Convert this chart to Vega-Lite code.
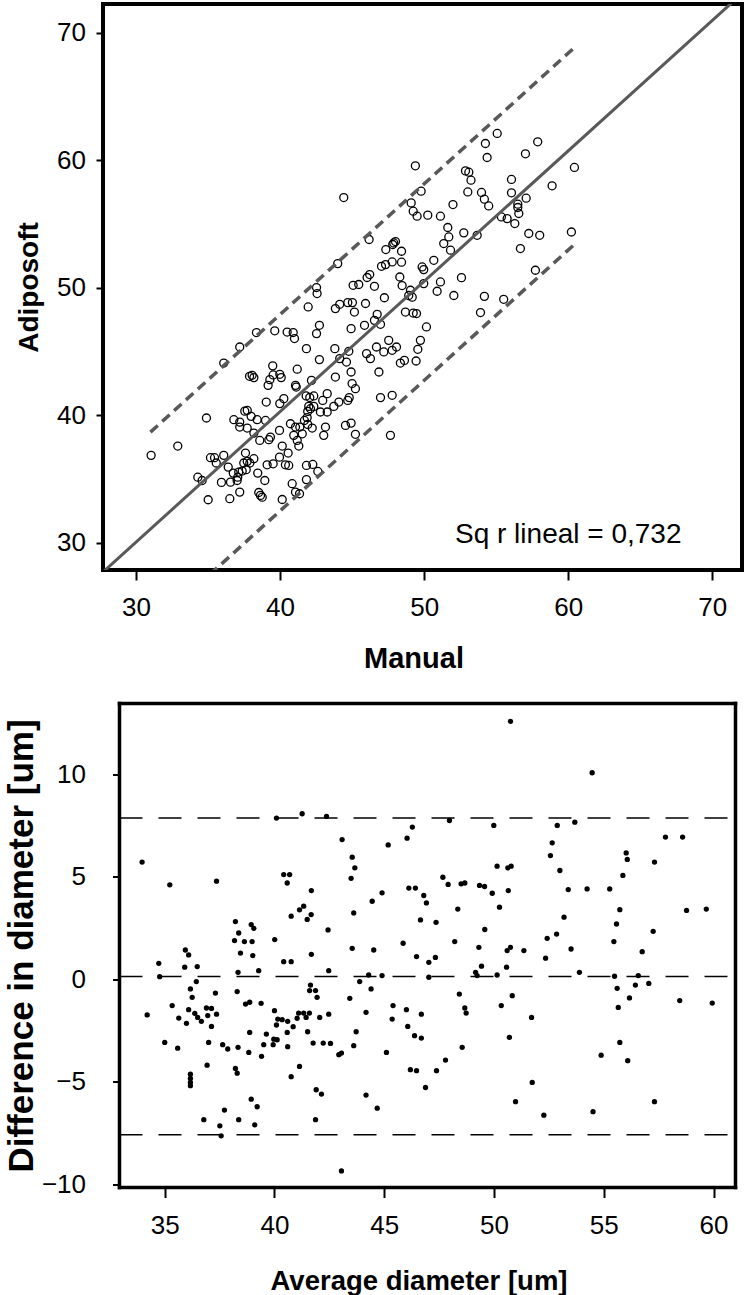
{
  "$schema": "https://vega.github.io/schema/vega-lite/v6.json",
  "padding": {"left": 4, "top": 2, "right": 5, "bottom": 2},
  "spacing": 25.5,
  "config": {
    "font": "Liberation Sans",
    "axis": {"domain": false, "grid": false, "tickColor": "black", "tickWidth": 2, "labelColor": "black", "titleColor": "black", "labelFont": "Liberation Sans", "labelFontSize": 26, "titleFont": "Liberation Sans", "titleFontWeight": "bold"},
    "axisX": {"tickSize": 10, "labelPadding": 14.5, "titleBaseline": "alphabetic"},
    "axisY": {"tickSize": 7, "titleBaseline": "alphabetic", "titleAngle": 270}
  },
  "datasets": {
    "scatter": [
      {"manual":49.39,"adiposoft":59.55},{"manual":44.42,"adiposoft":57.06},{"manual":49.79,"adiposoft":57.56},{"manual":49.10,"adiposoft":56.64},{"manual":49.24,"adiposoft":55.99},{"manual":49.51,"adiposoft":55.60},{"manual":50.25,"adiposoft":55.68},{"manual":46.18,"adiposoft":53.77},{"manual":47.89,"adiposoft":53.50},{"manual":47.82,"adiposoft":53.38},{"manual":48.01,"adiposoft":53.61},{"manual":47.34,"adiposoft":52.98},{"manual":48.43,"adiposoft":52.85},{"manual":44.00,"adiposoft":51.88},{"manual":47.04,"adiposoft":51.67},{"manual":47.32,"adiposoft":51.80},{"manual":47.78,"adiposoft":52.01},{"manual":48.43,"adiposoft":51.99},{"manual":49.86,"adiposoft":51.62},{"manual":49.97,"adiposoft":51.41},{"manual":46.22,"adiposoft":51.02},{"manual":46.04,"adiposoft":50.79},{"manual":48.31,"adiposoft":50.83},{"manual":45.07,"adiposoft":50.18},{"manual":45.46,"adiposoft":50.24},{"manual":46.55,"adiposoft":50.10},{"manual":48.47,"adiposoft":50.16},{"manual":49.05,"adiposoft":49.79},{"manual":49.97,"adiposoft":50.31},{"manual":42.53,"adiposoft":50.00},{"manual":42.57,"adiposoft":49.53},{"manual":47.24,"adiposoft":49.20},
      {"manual":55.07,"adiposoft":62.09},{"manual":54.25,"adiposoft":61.30},{"manual":57.88,"adiposoft":61.43},{"manual":54.37,"adiposoft":60.20},{"manual":57.03,"adiposoft":60.49},{"manual":60.43,"adiposoft":59.42},{"manual":52.87,"adiposoft":59.15},{"manual":53.10,"adiposoft":59.05},{"manual":53.25,"adiposoft":58.42},{"manual":56.06,"adiposoft":58.48},{"manual":58.88,"adiposoft":57.98},{"manual":53.03,"adiposoft":57.50},{"manual":53.98,"adiposoft":57.46},{"manual":56.06,"adiposoft":57.43},{"manual":52.00,"adiposoft":56.51},{"manual":54.18,"adiposoft":56.93},{"manual":54.48,"adiposoft":56.40},{"manual":57.08,"adiposoft":57.01},{"manual":56.50,"adiposoft":56.54},{"manual":56.50,"adiposoft":56.28},{"manual":56.57,"adiposoft":55.81},{"manual":51.13,"adiposoft":55.60},{"manual":55.36,"adiposoft":55.54},{"manual":55.76,"adiposoft":55.41},{"manual":56.29,"adiposoft":55.02},{"manual":51.64,"adiposoft":54.71},{"manual":51.71,"adiposoft":53.97},{"manual":51.36,"adiposoft":53.45},{"manual":51.83,"adiposoft":52.93},{"manual":52.75,"adiposoft":54.29},{"manual":53.68,"adiposoft":54.10},{"manual":57.26,"adiposoft":54.24},{"manual":58.02,"adiposoft":54.10},{"manual":60.22,"adiposoft":54.36},{"manual":56.68,"adiposoft":53.06},{"manual":50.67,"adiposoft":52.14},{"manual":52.59,"adiposoft":50.78},{"manual":57.72,"adiposoft":51.36},{"manual":51.13,"adiposoft":50.44},{"manual":50.90,"adiposoft":49.71},{"manual":52.06,"adiposoft":49.38},{"manual":54.18,"adiposoft":49.31},{"manual":55.52,"adiposoft":49.08},
      {"manual":53.91,"adiposoft":48.04},{"manual":48.70,"adiposoft":48.08},{"manual":49.24,"adiposoft":48.00},{"manual":49.47,"adiposoft":47.96},{"manual":50.16,"adiposoft":46.91},{"manual":49.74,"adiposoft":45.86},{"manual":49.56,"adiposoft":45.16},{"manual":48.63,"adiposoft":44.29},{"manual":49.44,"adiposoft":44.24},{"manual":48.93,"adiposoft":49.38},{"manual":49.17,"adiposoft":49.25},
      {"manual":31.05,"adiposoft":36.84},{"manual":32.90,"adiposoft":37.57},{"manual":34.89,"adiposoft":39.77},{"manual":34.29,"adiposoft":35.13},{"manual":34.59,"adiposoft":34.87},{"manual":35.01,"adiposoft":33.36},{"manual":36.51,"adiposoft":33.44},{"manual":37.20,"adiposoft":33.96},{"manual":35.93,"adiposoft":34.72},{"manual":36.56,"adiposoft":34.74},{"manual":37.02,"adiposoft":34.87},{"manual":37.06,"adiposoft":35.13},{"manual":35.17,"adiposoft":36.66},{"manual":35.45,"adiposoft":36.66},{"manual":35.57,"adiposoft":36.24},{"manual":36.09,"adiposoft":36.84},{"manual":36.40,"adiposoft":35.92},{"manual":36.75,"adiposoft":35.45},{"manual":37.13,"adiposoft":35.53},{"manual":37.37,"adiposoft":35.61},{"manual":37.65,"adiposoft":35.72},{"manual":37.48,"adiposoft":36.24},{"manual":37.72,"adiposoft":36.37},{"manual":37.90,"adiposoft":36.24},{"manual":38.18,"adiposoft":36.58},{"manual":37.60,"adiposoft":37.02},{"manual":38.45,"adiposoft":35.45},{"manual":38.94,"adiposoft":34.87},{"manual":38.52,"adiposoft":33.93},{"manual":38.64,"adiposoft":33.70},{"manual":38.76,"adiposoft":33.56},{"manual":40.15,"adiposoft":33.38},{"manual":38.99,"adiposoft":39.58},{"manual":38.41,"adiposoft":39.64},{"manual":36.79,"adiposoft":39.64},{"manual":37.20,"adiposoft":39.45},{"manual":37.20,"adiposoft":39.06},{"manual":37.72,"adiposoft":38.98},{"manual":37.55,"adiposoft":40.31},{"manual":37.72,"adiposoft":40.37},{"manual":37.99,"adiposoft":39.90},{"manual":38.18,"adiposoft":38.59},{"manual":38.59,"adiposoft":38.01},{"manual":37.20,"adiposoft":45.34},{"manual":36.09,"adiposoft":44.08},{"manual":38.36,"adiposoft":46.47},{"manual":37.88,"adiposoft":43.04},{"manual":38.06,"adiposoft":43.12},{"manual":38.18,"adiposoft":42.94},{"manual":39.17,"adiposoft":42.33},{"manual":39.04,"adiposoft":41.02},{"manual":39.49,"adiposoft":43.86},{"manual":39.52,"adiposoft":43.15},{"manual":39.29,"adiposoft":42.78},{"manual":39.98,"adiposoft":43.20},{"manual":40.08,"adiposoft":42.94},{"manual":39.63,"adiposoft":46.61},{"manual":40.49,"adiposoft":46.51},{"manual":40.91,"adiposoft":46.47},{"manual":41.00,"adiposoft":46.00},{"manual":41.19,"adiposoft":43.60},{"manual":41.07,"adiposoft":42.33},{"manual":41.12,"adiposoft":42.20},{"manual":40.26,"adiposoft":41.29},{"manual":39.98,"adiposoft":40.90},{"manual":39.96,"adiposoft":38.80},{"manual":39.33,"adiposoft":38.27},{"manual":39.22,"adiposoft":38.07},{"manual":40.15,"adiposoft":37.57},{"manual":39.96,"adiposoft":36.70},{"manual":40.56,"adiposoft":37.02},{"manual":39.10,"adiposoft":36.10},{"manual":39.52,"adiposoft":36.18},{"manual":40.37,"adiposoft":36.10},{"manual":40.60,"adiposoft":36.05},{"manual":40.84,"adiposoft":34.62},{"manual":41.07,"adiposoft":33.96},{"manual":41.35,"adiposoft":33.83},{"manual":41.83,"adiposoft":36.05},{"manual":42.27,"adiposoft":36.13},{"manual":42.62,"adiposoft":35.58},{"manual":41.83,"adiposoft":34.94},{"manual":40.72,"adiposoft":39.32},{"manual":41.07,"adiposoft":39.06},{"manual":40.95,"adiposoft":38.41},{"manual":41.19,"adiposoft":38.01},{"manual":41.30,"adiposoft":37.57},{"manual":41.54,"adiposoft":38.53},{"manual":41.37,"adiposoft":39.06},{"manual":41.69,"adiposoft":39.58},{"manual":41.92,"adiposoft":39.27},{"manual":42.23,"adiposoft":38.98},{"manual":41.92,"adiposoft":40.29},{"manual":42.11,"adiposoft":40.50},{"manual":41.88,"adiposoft":39.80},{"manual":41.81,"adiposoft":41.50},{"manual":42.06,"adiposoft":41.38},{"manual":42.34,"adiposoft":41.50},{"manual":42.18,"adiposoft":42.72},{"manual":41.99,"adiposoft":40.68},{"manual":42.34,"adiposoft":40.68},{"manual":42.80,"adiposoft":40.24},{"manual":43.27,"adiposoft":40.24},{"manual":42.96,"adiposoft":41.15},{"manual":43.27,"adiposoft":41.68},{"manual":43.73,"adiposoft":40.68},{"manual":44.08,"adiposoft":41.02},{"manual":44.70,"adiposoft":41.15},{"manual":44.80,"adiposoft":41.37},{"manual":43.15,"adiposoft":39.06},{"manual":43.03,"adiposoft":38.41},{"manual":44.54,"adiposoft":39.19},{"manual":44.93,"adiposoft":39.37},{"manual":45.23,"adiposoft":38.49},{"manual":41.83,"adiposoft":45.21},{"manual":42.53,"adiposoft":46.39},{"manual":42.73,"adiposoft":47.04},{"manual":41.95,"adiposoft":48.48},{"manual":42.73,"adiposoft":44.35},{"manual":43.84,"adiposoft":42.98},{"manual":43.80,"adiposoft":45.21},{"manual":44.14,"adiposoft":44.43},{"manual":44.61,"adiposoft":44.16},{"manual":44.77,"adiposoft":45.00},{"manual":44.93,"adiposoft":43.38},{"manual":45.00,"adiposoft":42.47},{"manual":45.23,"adiposoft":42.07},{"manual":43.84,"adiposoft":48.35},{"manual":44.14,"adiposoft":48.69},{"manual":44.70,"adiposoft":48.82},{"manual":45.02,"adiposoft":48.82},{"manual":45.16,"adiposoft":48.08},{"manual":45.93,"adiposoft":48.75},{"manual":44.93,"adiposoft":46.78},{"manual":45.86,"adiposoft":47.04},{"manual":46.55,"adiposoft":47.43},{"manual":46.74,"adiposoft":47.90},{"manual":46.97,"adiposoft":47.12},{"manual":46.00,"adiposoft":44.82},{"manual":46.27,"adiposoft":44.43},{"manual":46.69,"adiposoft":45.34},{"manual":47.20,"adiposoft":44.95},{"manual":47.54,"adiposoft":45.86},{"manual":47.78,"adiposoft":45.08},{"manual":48.08,"adiposoft":45.34},{"manual":46.86,"adiposoft":43.38},{"manual":46.97,"adiposoft":41.37},{"manual":47.78,"adiposoft":41.55},{"manual":47.66,"adiposoft":38.41},{"manual":48.35,"adiposoft":44.08}
    ],
    "bland": [
      {"average":33.97,"difference":5.72},{"average":35.23,"difference":4.61},{"average":37.36,"difference":4.79},{"average":40.09,"difference":7.87},{"average":41.26,"difference":8.08},{"average":42.37,"difference":7.95},{"average":43.08,"difference":6.82},{"average":43.54,"difference":5.96},{"average":43.66,"difference":5.44},{"average":43.49,"difference":4.93},{"average":43.61,"difference":3.24},{"average":43.54,"difference":1.51},{"average":44.52,"difference":1.43},{"average":45.18,"difference":6.56},{"average":46.04,"difference":6.89},{"average":46.28,"difference":7.43},{"average":46.12,"difference":4.45},{"average":46.42,"difference":4.45},{"average":46.80,"difference":4.09},{"average":46.92,"difference":3.73},{"average":46.65,"difference":2.90},{"average":44.90,"difference":4.22},{"average":44.45,"difference":3.81},{"average":45.86,"difference":1.76},{"average":40.42,"difference":5.11},{"average":40.69,"difference":5.11},{"average":40.58,"difference":4.70},{"average":41.68,"difference":4.33},{"average":40.76,"difference":3.08},{"average":41.14,"difference":3.39},{"average":41.33,"difference":3.57},{"average":41.49,"difference":2.92},{"average":41.67,"difference":3.16},{"average":42.44,"difference":2.41},{"average":40.01,"difference":1.94},{"average":38.22,"difference":2.82},{"average":38.37,"difference":2.26},{"average":38.94,"difference":2.67},{"average":39.06,"difference":2.49},{"average":38.18,"difference":1.89},{"average":38.63,"difference":1.84},{"average":38.98,"difference":1.84},{"average":35.94,"difference":1.43},{"average":38.45,"difference":1.28},{"average":41.68,"difference":1.22},
      {"average":46.47,"difference":1.11},{"average":47.03,"difference":0.83},{"average":39.01,"difference":1.16},{"average":40.42,"difference":0.86},{"average":40.76,"difference":0.86},{"average":42.47,"difference":0.42},{"average":39.28,"difference":0.42},{"average":36.09,"difference":1.19},{"average":34.73,"difference":0.78},{"average":36.48,"difference":0.62},{"average":34.77,"difference":0.13},{"average":38.34,"difference":0.34},{"average":44.29,"difference":0.21},{"average":44.90,"difference":0.18},{"average":44.40,"difference":-0.47},{"average":43.88,"difference":-0.11},{"average":44.17,"difference":-1.61},{"average":43.43,"difference":-0.93},{"average":43.72,"difference":-2.56},{"average":43.61,"difference":-3.24},{"average":42.93,"difference":-3.68},{"average":43.05,"difference":-3.60},{"average":44.17,"difference":-5.65},{"average":44.68,"difference":-6.29},{"average":43.05,"difference":-9.35},{"average":45.10,"difference":-3.57},{"average":45.40,"difference":-1.28},{"average":45.36,"difference":-1.94},{"average":46.01,"difference":-1.48},{"average":46.07,"difference":-2.30},{"average":46.38,"difference":-2.75},{"average":46.69,"difference":-2.87},{"average":46.69,"difference":-1.70},{"average":46.19,"difference":-4.41},{"average":46.47,"difference":-4.46},{"average":46.88,"difference":-5.28},{"average":47.03,"difference":0.10},{"average":41.64,"difference":-0.28},{"average":41.60,"difference":-0.55},{"average":41.87,"difference":-0.55},{"average":41.94,"difference":-0.88},{"average":42.06,"difference":-1.86},{"average":42.47,"difference":-1.70},{"average":41.10,"difference":-1.65},{"average":41.33,"difference":-1.65},{"average":41.59,"difference":-1.65},{"average":41.44,"difference":-1.86},{"average":41.03,"difference":-1.90},{"average":40.85,"difference":-2.31},{"average":40.58,"difference":-2.59},{"average":40.60,"difference":-2.05},{"average":40.00,"difference":-1.53},{"average":40.15,"difference":-1.94},{"average":40.35,"difference":-1.97},{"average":40.09,"difference":-2.23},{"average":39.97,"difference":-2.92},{"average":40.12,"difference":-2.95},{"average":39.94,"difference":-3.19},{"average":39.63,"difference":-2.67},{"average":39.51,"difference":-3.19},{"average":39.41,"difference":-3.76},{"average":40.60,"difference":-3.29},{"average":41.51,"difference":-2.56},{"average":41.76,"difference":-3.11},{"average":42.22,"difference":-3.11},{"average":42.55,"difference":-3.13},{"average":41.14,"difference":-4.25},{"average":40.76,"difference":-4.75},{"average":41.90,"difference":-5.39},{"average":42.14,"difference":-5.60},{"average":41.87,"difference":-6.85},{"average":38.68,"difference":-1.21},{"average":38.87,"difference":-1.12},{"average":39.39,"difference":-1.17},{"average":38.30,"difference":-0.60},{"average":38.87,"difference":-2.59},{"average":38.34,"difference":-3.32},{"average":38.83,"difference":-3.57},{"average":38.22,"difference":-4.35},{"average":38.30,"difference":-4.58},{"average":38.94,"difference":-5.85},{"average":39.21,"difference":-6.22},{"average":38.37,"difference":-6.85},{"average":39.10,"difference":-7.10},{"average":37.64,"difference":-3.19},{"average":37.87,"difference":-3.40},{"average":37.72,"difference":-6.38},{"average":37.51,"difference":-7.15},{"average":37.57,"difference":-7.64},{"average":36.78,"difference":-6.85},{"average":36.93,"difference":-4.19},{"average":36.17,"difference":-4.63},{"average":36.17,"difference":-4.84},{"average":36.17,"difference":-5.03},{"average":36.17,"difference":-5.19},{"average":35.91,"difference":0.59},{"average":36.44,"difference":-0.11},{"average":36.17,"difference":-0.47},{"average":36.25,"difference":-0.88},{"average":36.09,"difference":-1.48},{"average":36.37,"difference":-1.66},{"average":36.50,"difference":-1.86},{"average":36.67,"difference":-2.05},{"average":35.99,"difference":-2.15},{"average":35.64,"difference":-1.89},{"average":35.34,"difference":-1.28},{"average":35.00,"difference":-3.08},{"average":35.59,"difference":-3.36},{"average":34.20,"difference":-1.74},{"average":36.90,"difference":-1.40},{"average":37.13,"difference":-1.42},{"average":36.96,"difference":-1.77},{"average":37.36,"difference":-1.70},{"average":37.13,"difference":-2.30},{"average":37.31,"difference":-0.67},{"average":37.00,"difference":-3.08},
      {"average":50.75,"difference":12.59},{"average":54.47,"difference":10.08},{"average":47.97,"difference":7.75},{"average":49.99,"difference":7.51},{"average":52.88,"difference":7.51},{"average":53.68,"difference":7.67},{"average":52.65,"difference":6.66},{"average":52.57,"difference":6.04},{"average":53.00,"difference":5.31},{"average":57.81,"difference":6.94},{"average":58.59,"difference":6.94},{"average":56.02,"difference":6.17},{"average":56.07,"difference":5.85},{"average":57.31,"difference":5.72},{"average":55.87,"difference":5.07},{"average":50.14,"difference":5.52},{"average":50.63,"difference":5.44},{"average":50.78,"difference":5.52},{"average":47.67,"difference":4.98},{"average":47.91,"difference":4.63},{"average":48.50,"difference":4.66},{"average":48.67,"difference":4.70},{"average":49.34,"difference":4.58},{"average":49.57,"difference":4.53},{"average":49.92,"difference":4.20},{"average":50.65,"difference":4.33},{"average":53.38,"difference":4.38},{"average":54.24,"difference":4.41},{"average":55.27,"difference":4.41},{"average":48.35,"difference":3.43},{"average":50.25,"difference":3.52},{"average":47.36,"difference":2.78},{"average":53.19,"difference":3.03},{"average":55.73,"difference":3.40},{"average":55.58,"difference":2.70},{"average":58.77,"difference":3.36},{"average":59.67,"difference":3.43},{"average":57.25,"difference":2.34},{"average":49.58,"difference":2.43},{"average":48.21,"difference":1.84},{"average":49.31,"difference":1.56},{"average":50.75,"difference":1.56},{"average":50.60,"difference":1.40},{"average":51.36,"difference":1.40},{"average":52.42,"difference":2.00},{"average":52.85,"difference":2.21},{"average":53.51,"difference":1.48},{"average":55.46,"difference":1.84},{"average":56.75,"difference":1.35},
      {"average":47.33,"difference":1.07},{"average":49.43,"difference":0.64},{"average":49.16,"difference":0.34},{"average":49.23,"difference":0.18},{"average":50.14,"difference":0.21},{"average":50.57,"difference":0.59},{"average":52.35,"difference":1.03},{"average":53.89,"difference":0.34},{"average":55.49,"difference":0.15},{"average":55.61,"difference":-0.44},{"average":55.66,"difference":-1.37},{"average":56.17,"difference":-0.91},{"average":56.44,"difference":-0.28},{"average":56.57,"difference":0.18},{"average":57.05,"difference":-0.20},{"average":58.46,"difference":-1.04},{"average":59.94,"difference":-1.16},{"average":48.42,"difference":-0.72},{"average":48.67,"difference":-1.40},{"average":48.73,"difference":-1.65},{"average":50.33,"difference":-1.28},{"average":50.83,"difference":-0.80},{"average":51.71,"difference":-1.86},{"average":50.70,"difference":-2.83},{"average":48.55,"difference":-3.32},{"average":47.79,"difference":-3.94},{"average":47.38,"difference":-4.46},{"average":55.73,"difference":-3.08},{"average":56.09,"difference":-3.97},{"average":54.88,"difference":-3.70},{"average":51.74,"difference":-5.03},{"average":50.98,"difference":-5.97},{"average":52.27,"difference":-6.63},{"average":54.51,"difference":-6.46},{"average":57.31,"difference":-5.97}
    ]
  },
  "vconcat": [
    {
      "width": 639,
      "height": 566,
      "view": {"stroke": "black", "strokeWidth": 4},
      "layer": [
        {
          "data": {"name": "scatter"},
          "mark": {"type": "point", "shape": "circle", "filled": false, "color": "black", "size": 64, "strokeWidth": 1.3, "opacity": 1},
          "encoding": {
            "x": {"field": "manual", "type": "quantitative", "scale": {"domain": [27.71, 72.06], "nice": false, "zero": false}, "axis": {"values": [30, 40, 50, 60, 70], "title": "Manual", "titleFontSize": 29, "titleX": 310.5, "titleY": 97}},
            "y": {"field": "adiposoft", "type": "quantitative", "scale": {"domain": [27.85, 72.24], "nice": false, "zero": false}, "axis": {"values": [30, 40, 50, 60, 70], "title": "Adiposoft", "titleFontSize": 28, "labelPadding": 10.5, "titleX": -65.5}}
          }
        },
        {
          "data": {"values": [{"manual": 27.71, "adiposoft": 27.69}, {"manual": 72.06, "adiposoft": 73.06}]},
          "mark": {"type": "line", "color": "#595959", "strokeWidth": 3, "clip": true},
          "encoding": {
            "x": {"field": "manual", "type": "quantitative"},
            "y": {"field": "adiposoft", "type": "quantitative"}
          }
        },
        {
          "data": {"values": [
            {"manual": 31.0, "adiposoft": 38.66, "band": "upper"}, {"manual": 60.5, "adiposoft": 68.9, "band": "upper"},
            {"manual": 31.0, "adiposoft": 23.28, "band": "lower"}, {"manual": 60.5, "adiposoft": 53.46, "band": "lower"}
          ]},
          "mark": {"type": "line", "color": "#595959", "strokeWidth": 3.5, "strokeDash": [10, 6], "clip": true},
          "encoding": {
            "x": {"field": "manual", "type": "quantitative"},
            "y": {"field": "adiposoft", "type": "quantitative"},
            "detail": {"field": "band"}
          }
        },
        {
          "data": {"values": [{"manual": 60, "adiposoft": 29.93, "label": "Sq r lineal = 0,732"}]},
          "mark": {"type": "text", "font": "Liberation Sans", "fontSize": 28, "align": "center", "baseline": "alphabetic", "color": "black"},
          "encoding": {
            "x": {"field": "manual", "type": "quantitative"},
            "y": {"field": "adiposoft", "type": "quantitative"},
            "text": {"field": "label"}
          }
        }
      ]
    },
    {
      "width": 632.5,
      "height": 484,
      "view": {"stroke": null},
      "layer": [
        {
          "data": {"values": [{"limit": 7.87}, {"limit": 0.14}, {"limit": -7.59}]},
          "mark": {"type": "rule", "color": "black", "strokeWidth": 1.5, "strokeDash": [23, 16]},
          "encoding": {
            "x": {"datum": 32.94, "type": "quantitative"},
            "x2": {"datum": 61.0},
            "y": {"field": "limit", "type": "quantitative", "title": "Difference in diameter [um]"}
          }
        },
        {
          "data": {"name": "bland"},
          "mark": {"type": "point", "shape": "circle", "filled": true, "color": "black", "size": 28, "opacity": 1},
          "encoding": {
            "x": {"field": "average", "type": "quantitative", "title": "Average diameter [um]", "scale": {"domain": [32.94, 61.0], "range": [16.5, 632.5], "nice": false, "zero": false}, "axis": {"values": [35, 40, 45, 50, 55, 60], "title": "Average diameter [um]", "titleFontSize": 27.5, "titleX": 315.5, "titleY": 102}},
            "y": {"field": "difference", "type": "quantitative", "title": "Difference in diameter [um]", "scale": {"domain": [-10.16, 13.46], "nice": false, "zero": false}, "axis": {"values": [-10, -5, 0, 5, 10], "title": "Difference in diameter [um]", "titleFontSize": 35, "labelPadding": 27, "offset": -16.5, "titleX": -87}}
          }
        },
        {
          "data": {"values": [{"side": "bottom"}]},
          "mark": {"type": "rule", "color": "black", "strokeWidth": 3.5, "strokeCap": "square"},
          "encoding": {
            "x": {"datum": 32.94, "type": "quantitative"},
            "x2": {"datum": 61.0},
            "y": {"datum": -10.16, "type": "quantitative"}
          }
        },
        {
          "data": {"values": [{"side": "top"}]},
          "mark": {"type": "rule", "color": "black", "strokeWidth": 3.5, "strokeCap": "square"},
          "encoding": {
            "x": {"datum": 32.94, "type": "quantitative"},
            "x2": {"datum": 61.0},
            "y": {"datum": 13.46, "type": "quantitative"}
          }
        },
        {
          "data": {"values": [{"side": "left"}]},
          "mark": {"type": "rule", "color": "black", "strokeWidth": 3.5, "strokeCap": "square"},
          "encoding": {
            "x": {"datum": 32.94, "type": "quantitative"},
            "y": {"datum": -10.16, "type": "quantitative"},
            "y2": {"datum": 13.46}
          }
        },
        {
          "data": {"values": [{"side": "right"}]},
          "mark": {"type": "rule", "color": "black", "strokeWidth": 3.5, "strokeCap": "square"},
          "encoding": {
            "x": {"datum": 61.0, "type": "quantitative"},
            "y": {"datum": -10.16, "type": "quantitative"},
            "y2": {"datum": 13.46}
          }
        }
      ]
    }
  ]
}
